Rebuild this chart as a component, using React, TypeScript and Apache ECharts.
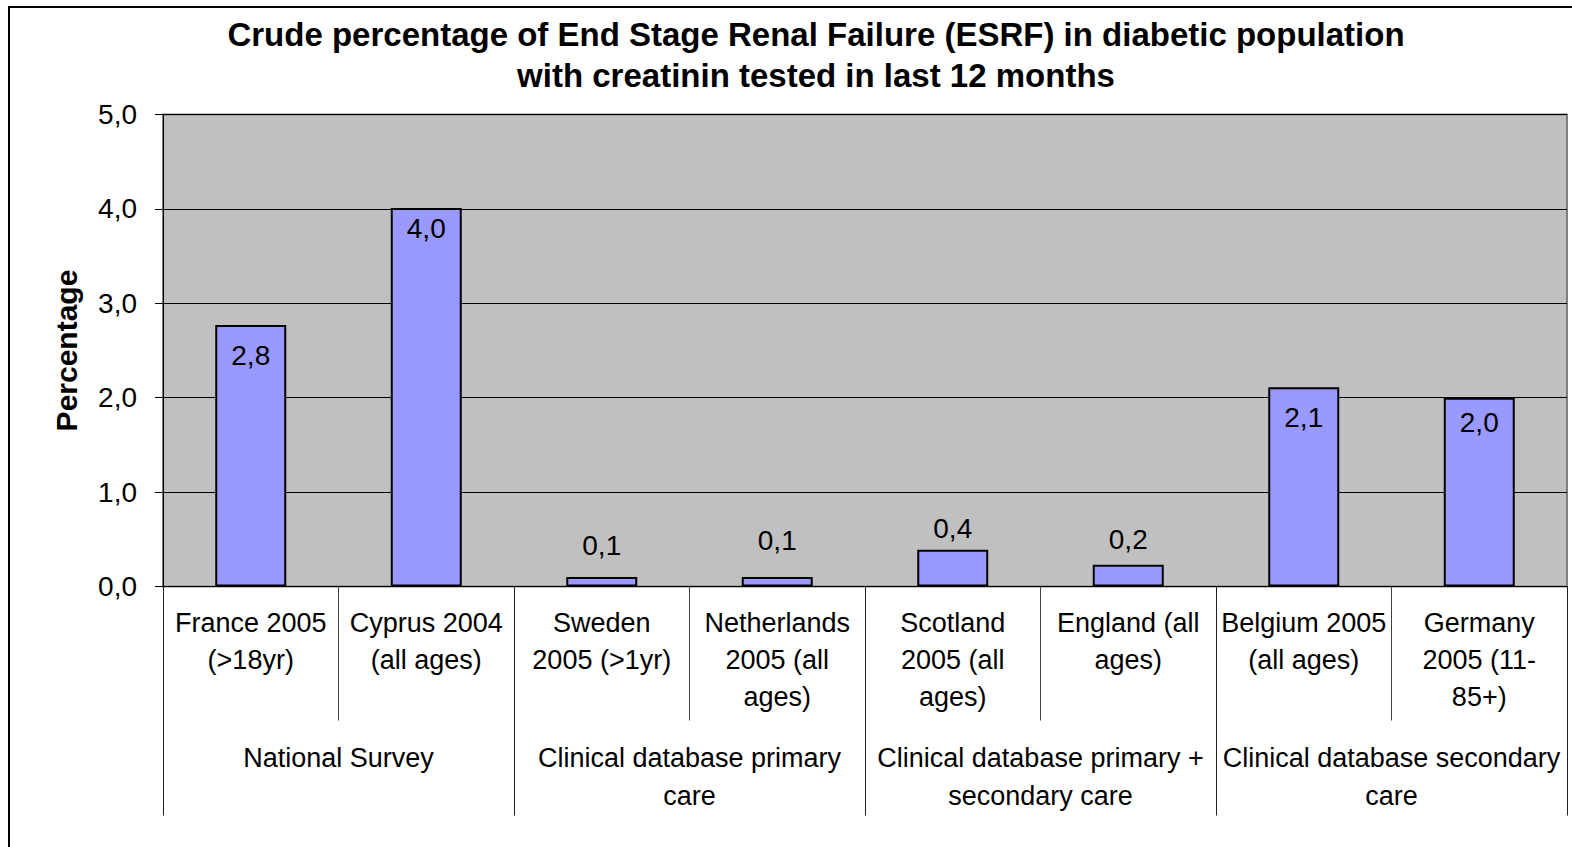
import React, { useEffect, useRef } from "react";
import * as echarts from "echarts";

const titleText =
  "Crude percentage of End Stage Renal Failure (ESRF) in diabetic population\nwith creatinin tested in last 12 months";
const yAxisName = "Percentage";
const categories = [
  "France 2005\n(>18yr)",
  "Cyprus 2004\n(all ages)",
  "Sweden\n2005 (>1yr)",
  "Netherlands\n2005 (all\nages)",
  "Scotland\n2005 (all\nages)",
  "England (all\nages)",
  "Belgium 2005\n(all ages)",
  "Germany\n2005 (11-\n85+)",
];
const groups = [
  "National Survey",
  "Clinical database primary\ncare",
  "Clinical database primary +\nsecondary care",
  "Clinical database secondary\ncare",
];
const values = [2.77, 4.01, 0.1, 0.1, 0.39, 0.23, 2.11, 2.0];
const yTicks = [0, 1, 2, 3, 4, 5];

// label placement per bar (style only)
const labelPlacement: [string, number][] = [
  ["insideTop", 16],
  ["insideTop", 7],
  ["top", 18],
  ["top", 23],
  ["top", 7],
  ["top", 11],
  ["insideTop", 16],
  ["insideTop", 11],
];

const FONT = "'Liberation Sans', Arial, sans-serif";

export default function App() {
  const ref = useRef<HTMLDivElement>(null);
  useEffect(() => {
    document.body.style.margin = "0";
    const chart = echarts.init(ref.current!, undefined, { renderer: "svg" });
    const fmt = (v: number) => v.toFixed(1).replace(".", ",");
    chart.setOption({
      animation: false,
      backgroundColor: "#ffffff",
      textStyle: { fontFamily: FONT },
      title: {
        text: titleText,
        left: 811,
        top: 9,
        padding: 5,
        textAlign: "center",
        textStyle: {
          fontFamily: FONT,
          fontSize: 33,
          fontWeight: "bold",
          lineHeight: 41,
          color: "#000",
        },
      },
      graphic: [
        {
          type: "rect",
          shape: { x: 9, y: 7, width: 1700, height: 1000 },
          style: { fill: "none", stroke: "#000", lineWidth: 2 },
          silent: true,
        },
      ],
      grid: {
        left: 163,
        top: 114.5,
        right: 5,
        bottom: 260.5,
        show: true,
        backgroundColor: "#C0C0C0",
        borderColor: "#808080",
        borderWidth: 2,
      },
      yAxis: {
        type: "value",
        min: yTicks[0],
        max: yTicks[yTicks.length - 1],
        interval: 1,
        name: yAxisName,
        nameLocation: "middle",
        nameRotate: 90,
        nameGap: 82,
        nameTextStyle: {
          fontFamily: FONT,
          fontSize: 30,
          fontWeight: "bold",
          color: "#000",
        },
        axisLine: { show: true, lineStyle: { color: "#000", width: 1 } },
        axisTick: { show: true, length: 8, lineStyle: { color: "#000" } },
        axisLabel: {
          margin: 26,
          fontFamily: FONT,
          fontSize: 28,
          color: "#000",
          formatter: (v: number) => fmt(v),
        },
        splitLine: { show: true, lineStyle: { color: "#000", width: 1 } },
      },
      xAxis: [
        {
          type: "category",
          data: categories,
          position: "bottom",
          axisLine: { show: true, lineStyle: { color: "#000", width: 1 } },
          axisTick: {
            show: true,
            interval: 0,
            length: 134,
            lineStyle: { color: "#404040", width: 1 },
          },
          axisLabel: {
            interval: 0,
            margin: 18,
            fontFamily: FONT,
            fontSize: 27,
            lineHeight: 37,
            color: "#000",
          },
        },
        {
          type: "category",
          data: groups,
          position: "bottom",
          axisLine: { show: false },
          axisTick: {
            show: true,
            interval: 0,
            length: 229,
            lineStyle: { color: "#202020", width: 1 },
          },
          axisLabel: {
            interval: 0,
            margin: 152,
            fontFamily: FONT,
            fontSize: 27,
            lineHeight: 38,
            color: "#000",
          },
        },
      ],
      series: [
        {
          type: "bar",
          xAxisIndex: 0,
          barWidth: 71,
          data: values.map((v, i) => ({
            value: v,
            label: {
              position: labelPlacement[i][0],
              distance: labelPlacement[i][1],
            },
          })),
          itemStyle: { color: "#9999FF", borderColor: "#000", borderWidth: 2 },
          label: {
            show: true,
            fontFamily: FONT,
            fontSize: 28,
            color: "#000",
            formatter: (p: any) => fmt(p.value),
          },
        },
      ],
    });
    return () => chart.dispose();
  }, []);
  return <div ref={ref} style={{ width: 1572, height: 847 }} />;
}
